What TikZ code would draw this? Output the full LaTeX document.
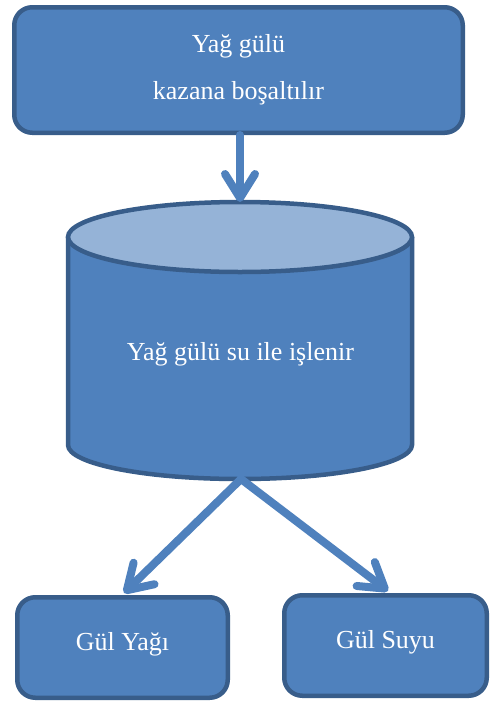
\documentclass[tikz,border=0pt]{standalone}
\usepackage{fontspec}
\setmainfont{Liberation Serif}
\usetikzlibrary{arrows.meta}
\definecolor{boxfill}{HTML}{4F81BD}
\definecolor{boxline}{HTML}{385D8A}
\definecolor{lidfill}{HTML}{95B3D7}
\tikzset{
  procbox/.style={draw=boxline, fill=boxfill, line width=4.5pt, rounded corners=18pt,
    text=white, font=\fontsize{26}{47}\selectfont, align=center, inner sep=0pt},
  cylpart/.style={draw=boxline, line width=4.5pt},
  flowarrow/.style={draw=boxfill, line width=8pt, line cap=round,
    -{Straight Barb[length=24pt, width=30pt, round]},
    preaction={draw=black, draw opacity=0.12, transform canvas={shift={(1.5pt,-2pt)}}}},
  lbl/.style={text=white, font=\fontsize{26}{47}\selectfont, inner sep=0pt}
}
\begin{document}
\begin{tikzpicture}[x=1pt,y=-1pt]
\useasboundingbox (0,0) rectangle (490,702);
% top box
\node[procbox, minimum width=448.5pt, minimum height=125.5pt] (top) at (238.5,70)
  {Yağ gülü\\kazana boşaltılır};
% cylinder
\path[cylpart, fill=boxfill] (68,237) -- (68,445)
  arc[start angle=180, end angle=0, x radius=172, y radius=34] -- (412,237);
\path[cylpart, fill=lidfill] (240,237) ellipse [x radius=172, y radius=35];
\node[lbl, anchor=base] (cyl) at (240.5,360) {Yağ gülü su ile işlenir};
\coordinate (cyltop) at (240,202);
\coordinate (cylbot) at (241,479);
% bottom boxes
\node[procbox, minimum width=210.5pt, minimum height=100.5pt, text height=13pt, text depth=8pt]
  (gy) at (122.5,647.5) {Gül Yağı};
\node[procbox, minimum width=202.5pt, minimum height=100.5pt, text height=13pt, text depth=8pt]
  (gs) at (385.5,645.5) {Gül Suyu};
% arrows
\draw[flowarrow] (cyltop |- top.south) -- (cyltop);
\draw[flowarrow] (cylbot) -- ([xshift=1.5pt,yshift=2pt]gy.north);
\draw[flowarrow] (cylbot) -- ([xshift=2.5pt,yshift=2pt]gs.north);
\end{tikzpicture}
\end{document}
